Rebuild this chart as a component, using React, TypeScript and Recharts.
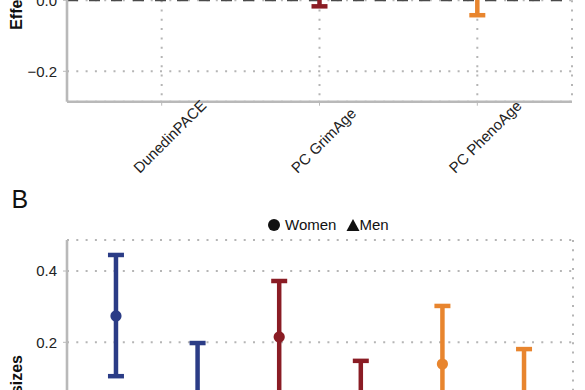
import { ScatterChart, Scatter, XAxis, YAxis, CartesianGrid, ErrorBar, ReferenceLine } from "recharts";

const FONT = '"Liberation Sans", Arial, Helvetica, sans-serif';

/* ── data ── */
const clocks = ["DunedinPACE", "PC GrimAge", "PC PhenoAge"];
const clockColors = ["#2b3c86", "#8a1c24", "#e8852e"];

// A: pooled effect sizes (upper parts fall outside the crop)
const pooledEst = [0.16, 0.1, 0.1];
const pooledLow = [0.03, -0.017, -0.042];
const pooledHigh = [0.29, 0.22, 0.24];

// B: by sex
const sexes = ["Women", "Men"];
const womenEst = [0.274, 0.215, 0.139];
const womenLow = [0.105, 0.055, -0.02];
const womenHigh = [0.445, 0.372, 0.302];
const menEst = [0.03, -0.03, 0.0];
const menLow = [-0.14, -0.21, -0.18];
const menHigh = [0.198, 0.148, 0.181];

const ticksA = [-0.2, 0, 0.2];
const ticksB = [-0.4, -0.2, 0, 0.2, 0.4];

const GRID = "#b5b5b5";
const AXIS = "#b9b9b9";
const TEXT = "#222";

const fmt = (v: number) => (v < 0 ? "\u2212" : "") + Math.abs(v).toFixed(1);

/* ── rows for recharts ── */
const pooledRows = clocks.map((name, i) => [
  { x: i, y: pooledEst[i], err: [pooledEst[i] - pooledLow[i], pooledHigh[i] - pooledEst[i]], name },
]);

const sexRows = clocks.map((name, i) => [
  { x: i * 2, y: womenEst[i], err: [womenEst[i] - womenLow[i], womenHigh[i] - womenEst[i]], sex: sexes[0], name },
  { x: i * 2 + 1, y: menEst[i], err: [menEst[i] - menLow[i], menHigh[i] - menEst[i]], sex: sexes[1], name },
]);

function YTitle({ viewBox }: any) {
  if (!viewBox) return null;
  const cx = 22;
  const cy = viewBox.y + viewBox.height / 2;
  return (
    <text x={cx} y={cy} transform={`rotate(-90, ${cx}, ${cy})`} textAnchor="middle" fontSize={16} fontWeight="bold" fill="#111">
      Effect sizes
    </text>
  );
}

function ClockTick({ x, y, payload }: any) {
  const tx = x - 22;
  const ty = y + 66.3;
  return (
    <text x={tx} y={ty} transform={`rotate(-45, ${tx}, ${ty})`} textAnchor="start" fontSize={15} fill={TEXT}>
      {clocks[payload.value]}
    </text>
  );
}

function PointShape(props: any) {
  const { cx, cy, fill, payload } = props;
  if (payload.sex === "Men") {
    return <polygon points={`${cx - 6.5},${cy + 5.5} ${cx + 6.5},${cy + 5.5} ${cx},${cy - 6.5}`} fill={fill} />;
  }
  return <circle cx={cx} cy={cy} r={5.6} fill={fill} />;
}

export default function App() {
  return (
    <div
      style={{
        position: "fixed",
        left: 0,
        top: 0,
        width: 585,
        height: 390,
        overflow: "hidden",
        background: "#fff",
        fontFamily: FONT,
      }}
    >
      {/* panel A (only its lower part is in view) */}
      <div style={{ position: "absolute", left: 0, top: -140 }}>
        <ScatterChart width={585} height={340} margin={{ top: 10, right: 13, bottom: 0, left: 0 }}>
          <CartesianGrid stroke={GRID} strokeDasharray="2 7.3" strokeWidth={2} />
          <XAxis
            type="number"
            dataKey="x"
            domain={[-0.6, 2.6]}
            ticks={[0, 1, 2]}
            interval={0}
            allowDataOverflow
            height={98.3}
            axisLine={{ stroke: AXIS, strokeWidth: 2.6 }}
            tickLine={{ stroke: AXIS }}
            tickSize={4}
            tickMargin={2}
            tick={<ClockTick />}
          />
          <YAxis
            type="number"
            dataKey="y"
            domain={[-0.2856, 0.367]}
            ticks={ticksA}
            interval={0}
            allowDataOverflow
            width={67}
            axisLine={{ stroke: AXIS, strokeWidth: 2.6 }}
            tickLine={{ stroke: AXIS }}
            tickSize={4}
            tickMargin={6}
            tickFormatter={fmt}
            tick={{ fontSize: 15, fill: TEXT }}
            label={<YTitle />}
          />
          <ReferenceLine y={0} stroke="#4a4a4a" strokeDasharray="11 11" strokeWidth={2} />
          {pooledRows.map((rows, i) => (
            <Scatter key={clocks[i]} data={rows} fill={clockColors[i]} shape={<PointShape />} isAnimationActive={false}>
              <ErrorBar dataKey="err" direction="y" width={8} strokeWidth={4.5} stroke={clockColors[i]} isAnimationActive={false} />
            </Scatter>
          ))}
        </ScatterChart>
      </div>

      {/* panel B (only its upper part is in view) */}
      <div style={{ position: "absolute", left: 0, top: 230 }}>
        <ScatterChart width={585} height={340} margin={{ top: 10, right: 12, bottom: 0, left: 0 }}>
          <CartesianGrid stroke={GRID} strokeDasharray="2 7.3" strokeWidth={2} />
          <XAxis
            type="number"
            dataKey="x"
            domain={[-0.6, 5.6]}
            ticks={[0, 1, 2, 3, 4, 5]}
            interval={0}
            allowDataOverflow
            height={12}
            axisLine={{ stroke: AXIS, strokeWidth: 2.6 }}
            tickLine={{ stroke: AXIS }}
            tickSize={4}
            tick={false}
          />
          <YAxis
            type="number"
            dataKey="y"
            domain={[-0.405, 0.487]}
            ticks={ticksB}
            interval={0}
            allowDataOverflow
            width={67}
            axisLine={{ stroke: AXIS, strokeWidth: 2.6 }}
            tickLine={{ stroke: AXIS }}
            tickSize={4}
            tickMargin={6}
            tickFormatter={fmt}
            tick={{ fontSize: 15, fill: TEXT }}
            label={<YTitle />}
          />
          {sexRows.map((rows, i) => (
            <Scatter key={clocks[i]} data={rows} fill={clockColors[i]} shape={<PointShape />} isAnimationActive={false}>
              <ErrorBar dataKey="err" direction="y" width={8} strokeWidth={4.5} stroke={clockColors[i]} isAnimationActive={false} />
            </Scatter>
          ))}
        </ScatterChart>
      </div>

      {/* panel tag and legend */}
      <svg width={585} height={390} style={{ position: "absolute", left: 0, top: 0, pointerEvents: "none" }}>
        <text x={11.5} y={208} fontSize={25} fill="#111">B</text>
        <circle cx={274} cy={225} r={6} fill="#111" />
        <text x={285} y={230.4} fontSize={15} fill="#111">{sexes[0]}</text>
        <polygon points="346.5,231 359.5,231 353,219" fill="#111" />
        <text x={359.5} y={230.4} fontSize={15} fill="#111">{sexes[1]}</text>
      </svg>
    </div>
  );
}
